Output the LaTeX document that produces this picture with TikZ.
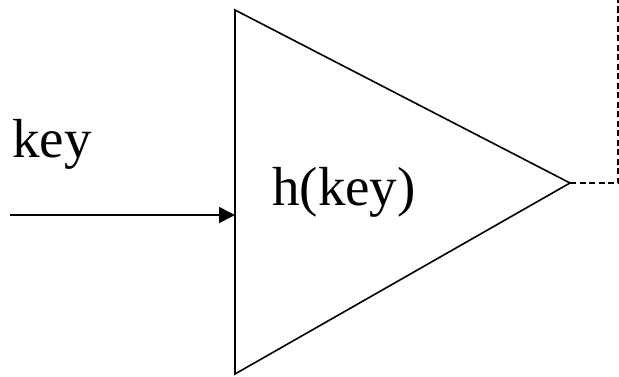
\documentclass[tikz,border=0pt]{standalone}
\usepackage{fontspec}
\setmainfont{Liberation Serif}
\usetikzlibrary{arrows.meta,positioning}

\begin{document}
\begin{tikzpicture}[x=1pt, y=1pt,
  edge/.style={line width=1.6pt},
  feed/.style={line width=1.8pt, -{Triangle[length=16pt, width=16pt]}},
  outlink/.style={line width=1.6pt, dash pattern=on 6pt off 3.5pt},
  lbl/.style={inner sep=0pt, anchor=base west, font=\fontsize{55}{60}\selectfont},
]
\useasboundingbox (0,0) rectangle (619,376);
% hash block
\coordinate (top) at (235,366);
\coordinate (bot) at (235,2);
\coordinate (apex) at (570,193);
\draw[edge, line join=miter] (top) -- (apex) -- (bot) -- cycle;
\node[lbl] (hashlbl) at (272,171) {h(key)};
% input
\node[lbl] (keylbl) at (12,219) {key};
\coordinate (src) at (10,161);
\coordinate (dst) at (235,161);
\draw[feed] (src) -- (dst);
% output
\coordinate (corner) at (618,193);
\coordinate (sink) at (618,376);
\draw[outlink] (apex) -- (corner) -- (sink);
\end{tikzpicture}
\end{document}
